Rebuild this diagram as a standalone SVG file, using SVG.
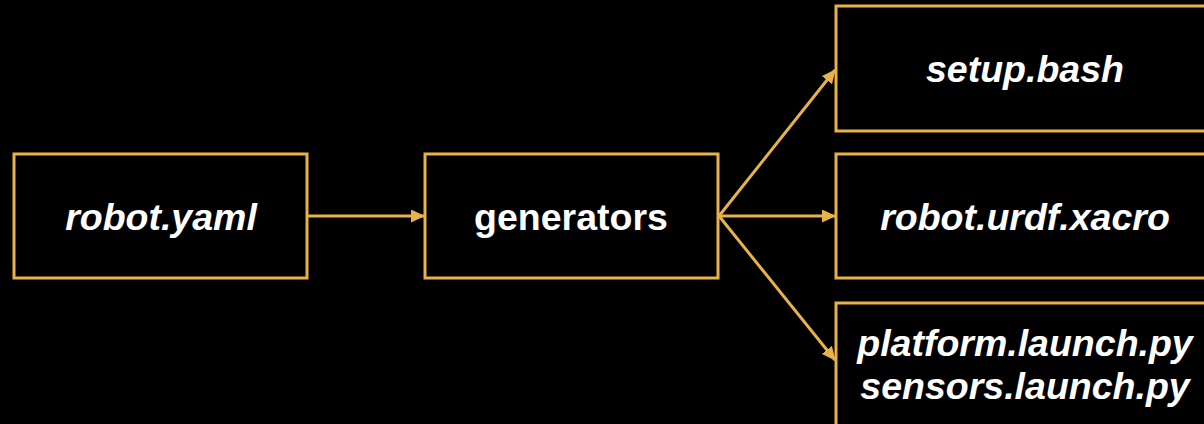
<svg xmlns="http://www.w3.org/2000/svg" width="1204" height="424" viewBox="0 0 1204 424">
  <style>
    .box { fill: #000; stroke: #E8B24A; stroke-width: 3; }
    .lbl { fill: #fff; font-family: "Liberation Sans", Arial, sans-serif; font-size: 37.5px; font-weight: bold; font-style: italic; text-anchor: middle; }
    .edge { stroke: #E8B24A; stroke-width: 3; fill: none; marker-end: url(#head); }
  </style>
  <defs>
    <marker id="head" viewBox="0 0 14 13" refX="13" refY="6.5" markerWidth="14" markerHeight="13" markerUnits="userSpaceOnUse" orient="auto">
      <path d="M0,0 L14,6.5 L0,13 Z" fill="#E8B24A"/>
    </marker>
  </defs>
  <rect width="1204" height="424" fill="#000"/>

  <g id="connectors">
    <line class="edge" x1="307" y1="216" x2="424" y2="216"/>
    <line class="edge" x1="719" y1="216" x2="835" y2="70"/>
    <line class="edge" x1="719" y1="216" x2="835" y2="216"/>
    <line class="edge" x1="719" y1="216" x2="835" y2="360"/>
  </g>

  <g id="robot-yaml">
    <rect class="box" x="14" y="154" width="293" height="124"/>
    <text class="lbl" x="161" y="230">robot.yaml</text>
  </g>

  <g id="generators">
    <rect class="box" x="425" y="154" width="293" height="124"/>
    <text class="lbl" x="571" y="230" style="font-style: normal">generators</text>
  </g>

  <g id="setup-bash">
    <rect class="box" x="836" y="6" width="380" height="125"/>
    <text class="lbl" x="1025" y="82">setup.bash</text>
  </g>

  <g id="robot-urdf-xacro">
    <rect class="box" x="836" y="154" width="380" height="124"/>
    <text class="lbl" x="1025" y="230">robot.urdf.xacro</text>
  </g>

  <g id="launch-files">
    <rect class="box" x="836" y="303" width="380" height="140"/>
    <text class="lbl" x="1025" y="356">platform.launch.py</text>
    <text class="lbl" x="1025" y="399">sensors.launch.py</text>
  </g>
</svg>
